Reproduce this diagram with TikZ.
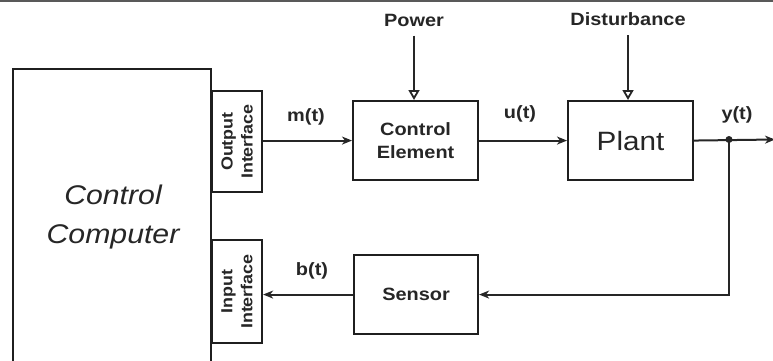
\documentclass[tikz,border=0pt]{standalone}
\usepackage{fontspec}
\setmainfont{Liberation Sans}
\newfontfamily\lblfont[FakeStretch=1.12]{Liberation Sans}
\usetikzlibrary{arrows.meta}
\begin{document}
\begin{tikzpicture}[x=1pt,y=-1pt,
  box/.style={draw, line width=2.1pt, inner sep=0pt, anchor=north west, black!88},
  lbl/.style={font=\lblfont\bfseries\fontsize{17.8}{20}\selectfont, text=black!85},
  iface/.style={font=\lblfont\bfseries\fontsize{16}{20}\selectfont, text=black!85, rotate=90, align=center},
  sig/.style={-{Stealth[length=10pt,width=8pt,inset=3pt]}, line width=2pt, black!85},
  ext/.style={-{Triangle[open,length=10pt,width=11pt]}, line width=1.8pt, black!85}]
\useasboundingbox (0,0) rectangle (773,360);
\clip (0,0) rectangle (773,360);
\draw[line width=1.6pt, black!65] (0,0.8) -- (773,0.8);
% blocks
\node[box, minimum width=198pt, minimum height=320pt] (cc) at (12,68) {};
\node[font=\lblfont\itshape\fontsize{27}{39}\selectfont, text=black!85, align=center] (cctext) at (113,217) {Control\\Computer};
\node[box, minimum width=50pt, minimum height=101pt] (oi) at (211,90) {};
\node[iface] (oitext) at (oi.center) {Output\\Interface};
\node[box, minimum width=50pt, minimum height=103pt] (ii) at (211,239) {};
\node[iface] (iitext) at (ii.center) {Input\\Interface};
\node[box, minimum width=125pt, minimum height=79pt] (ce) at (352,100) {};
\node[lbl, align=center, font=\lblfont\bfseries\fontsize{17.8}{23}\selectfont] (cetext) at (ce.center) {Control\\Element};
\node[box, minimum width=125pt, minimum height=79pt] (plant) at (567,100) {};
\node[font=\lblfont\fontsize{26.5}{30}\selectfont, text=black!85] (planttext) at (plant.center) {Plant};
\node[box, minimum width=124pt, minimum height=79pt] (sensor) at (353,254) {};
\node[lbl] (sensortext) at (sensor.center) {Sensor};
% external inputs
\node[lbl] (pw) at (414,20) {Power};
\node[lbl] (dist) at (628,19) {Disturbance};
\draw[ext, shorten <=6pt] (pw.south) -- (pw.south |- ce.north);
\draw[ext, shorten <=6pt] (dist.south) -- (dist.south |- plant.north);
% signals
\coordinate (jn) at (729,139.5);
\coordinate (yend) at (775,139.5);
\draw[sig] (oi.east |- ce.west) -- (ce.west);
\draw[sig] (ce.east) -- (plant.west);
\draw[sig] (plant.east) -- (yend);
\fill[black!85] (jn) circle (3.5pt);
\draw[sig] (jn) |- (sensor.east);
\draw[sig] (sensor.west) -- (sensor.west -| ii.east);
% labels
\node[lbl] (mt) at (306,117) {m(t)};
\node[lbl] (ut) at (520,114) {u(t)};
\node[lbl] (yt) at (737,115) {y(t)};
\node[lbl] (bt) at (312,271) {b(t)};
\end{tikzpicture}
\end{document}
